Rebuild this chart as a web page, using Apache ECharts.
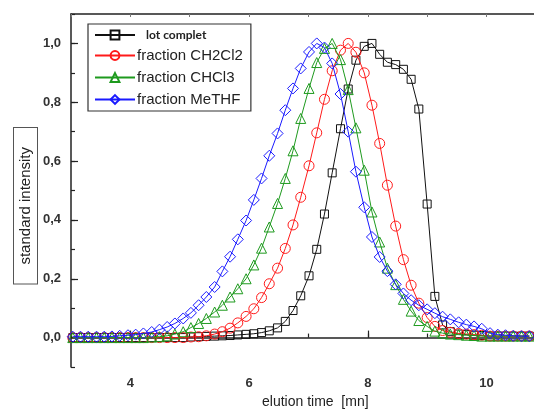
<!DOCTYPE html>
<html>
<head>
<meta charset="utf-8">
<script src="https://cdn.jsdelivr.net/npm/echarts@6/dist/echarts.min.js"></script>
<style>
html,body{margin:0;padding:0;background:#fff;}
#c{width:534px;height:414px;}
</style>
</head>
<body>
<div id="c"></div>
<script>
// elution time samples (min)
const times = [3.03,3.16,3.29,3.43,3.56,3.69,3.82,3.96,4.09,4.22,4.36,4.49,4.62,4.75,4.89,5.02,5.15,5.28,5.42,5.55,5.68,5.81,5.95,6.08,6.21,6.34,6.48,6.61,6.74,6.87,7.01,7.14,7.27,7.40,7.54,7.67,7.80,7.94,8.07,8.20,8.33,8.47,8.60,8.73,8.86,9.00,9.13,9.26,9.39,9.53,9.66,9.79,9.92,10.06,10.19,10.32,10.45,10.59,10.72];

const lotComplet = [0,0,0,0,0,0,0,0,0,0,0,0,0,0,0,0.002,0.003,0.004,0.005,0.006,0.007,0.009,0.011,0.013,0.017,0.023,0.033,0.055,0.092,0.142,0.21,0.30,0.42,0.56,0.71,0.845,0.943,0.99,1.0,0.963,0.936,0.928,0.912,0.878,0.777,0.454,0.14,0.043,0.02,0.012,0.01,0.008,0.007,0.005,0.005,0.005,0.005,0.005,0.005];

const fracCH2Cl2 = [0,0,0,0,0,0,0,0,0,0,0,0,0,0,0,0.002,0.003,0.006,0.012,0.02,0.032,0.05,0.072,0.098,0.136,0.183,0.236,0.303,0.383,0.477,0.584,0.696,0.81,0.907,0.977,1.0,0.97,0.9,0.79,0.66,0.518,0.379,0.265,0.178,0.117,0.068,0.038,0.024,0.018,0.014,0.012,0.01,0.008,0.005,0.005,0.005,0.005,0.005,0.005];

const fracCHCl3 = [0,0,0,0,0,0,0,0,0,0,0.002,0.003,0.006,0.012,0.02,0.034,0.048,0.065,0.087,0.11,0.138,0.166,0.2,0.247,0.304,0.376,0.456,0.541,0.635,0.745,0.847,0.935,0.983,1.0,0.945,0.843,0.713,0.569,0.427,0.325,0.236,0.18,0.13,0.09,0.058,0.038,0.022,0.015,0.012,0.01,0.008,0.007,0.005,0.005,0.005,0.005,0.005,0.005,0.005];

const fracMeTHF = [0.003,0.003,0.003,0.003,0.003,0.004,0.006,0.008,0.01,0.014,0.019,0.027,0.036,0.048,0.065,0.084,0.11,0.138,0.172,0.225,0.275,0.334,0.398,0.468,0.541,0.618,0.694,0.773,0.847,0.915,0.971,1.0,0.986,0.932,0.828,0.70,0.564,0.443,0.342,0.274,0.226,0.181,0.15,0.127,0.11,0.096,0.083,0.071,0.062,0.052,0.044,0.038,0.03,0.015,0.01,0.008,0.006,0.005,0.005];

const seriesNames = ['lot complet','fraction CH2Cl2','fraction CHCl3','fraction MeTHF'];
const xMajorTicks = [4,6,8,10];
const yMajorTicks = [0,0.2,0.4,0.6,0.8,1.0];

const seriesValues = [lotComplet, fracCH2Cl2, fracCHCl3, fracMeTHF];
const colors = ['#111111','#ff1a1a','#1e9a1e','#1a1aff'];
const symbols = ['rect','circle','triangle','diamond'];
const symbolSizes = [8,10,10,11];

const chart = echarts.init(document.getElementById('c'), null, {renderer:'canvas'});
const axisColor = '#222';
const fmt = v => v.toFixed(1).replace('.', ',');

const series = seriesNames.map((name,i)=>({
  name: name,
  type: 'line',
  xAxisIndex: 0, yAxisIndex: 0,
  data: times.map((t,k)=>[t, seriesValues[i][k]]),
  symbol: symbols[i],
  symbolSize: symbolSizes[i],
  showAllSymbol: true,
  smooth: false,
  lineStyle: {color: colors[i], width: 1},
  itemStyle: {color: 'rgba(255,255,255,0)', borderColor: colors[i], borderWidth: 1},
  emphasis: {disabled: true},
  animation: false,
  z: 2 + i
}));

const option = {
  animation: false,
  grid: {left: 71, right: -3, top: 14, bottom: 47, containLabel: false},
  xAxis: [
    {type:'value', min:3, max:10.8, position:'bottom',
     axisLine:{show:true, lineStyle:{color:axisColor, width:1.5}},
     axisTick:{show:true, inside:true, length:7, customValues: xMajorTicks, lineStyle:{color:axisColor, width:1.2}},
     axisLabel:{customValues: xMajorTicks, color:'#333', fontSize:13, fontWeight:'bold', fontFamily:'Liberation Sans', margin:10},
     splitLine:{show:false}},
    {type:'value', min:3, max:10.8, interval:1, position:'bottom',
     axisLine:{show:false},
     axisTick:{show:true, inside:true, length:4, lineStyle:{color:axisColor, width:1.2}},
     axisLabel:{show:false}, splitLine:{show:false}},
    {type:'value', min:3, max:10.8, interval:1, position:'top',
     axisLine:{show:true, lineStyle:{color:axisColor, width:1.5}},
     axisTick:{show:true, inside:true, length:3, lineStyle:{color:'#777', width:1}},
     axisLabel:{show:false}, splitLine:{show:false}}
  ],
  yAxis: [
    {type:'value', min:-0.1, max:1.1, position:'left',
     axisLine:{show:true, lineStyle:{color:axisColor, width:1.5}},
     axisTick:{show:true, inside:true, length:7, customValues: yMajorTicks, lineStyle:{color:axisColor, width:1.2}},
     axisLabel:{customValues: yMajorTicks, formatter: v=>fmt(v), color:'#333', fontSize:13, fontWeight:'bold', fontFamily:'Liberation Sans', margin:10},
     splitLine:{show:false}},
    {type:'value', min:-0.1, max:1.1, interval:0.1, position:'left',
     axisLine:{show:false},
     axisTick:{show:true, inside:true, length:4, lineStyle:{color:axisColor, width:1.2}},
     axisLabel:{show:false}, splitLine:{show:false}}
  ],
  legend: {
    orient:'vertical', left:88, top:24, width:168,
    padding:[5,8,4,6], itemGap:7,
    itemWidth:40, itemHeight:11,
    borderColor:'#333', borderWidth:1.2,
    backgroundColor:'#fff',
    textStyle:{fontFamily:'Liberation Sans', fontSize:15, color:'#222', padding:[0,0,0,-3]},
    data: seriesNames.map((n,i)=> i===0 ? {name:n, textStyle:{fontSize:12, fontWeight:'bold', fontFamily:'Lato', padding:[0,0,7,6]}} : {name:n})
  },
  graphic: [
    {type:'text', left:13, top:127, rotation: Math.PI/2, z:10,
     style:{text:'standard intensity', font:'15px "Liberation Sans"', fill:'#222',
            borderColor:'#555', borderWidth:1, padding:[4,19,4,19], backgroundColor:'#fff'}},
    {type:'text', left:262, top:395, z:10,
     style:{text:'elution time  [mn]', font:'14px "Liberation Sans"', fill:'#222'}}
  ],
  series: series
};
chart.setOption(option);
</script>
</body>
</html>
